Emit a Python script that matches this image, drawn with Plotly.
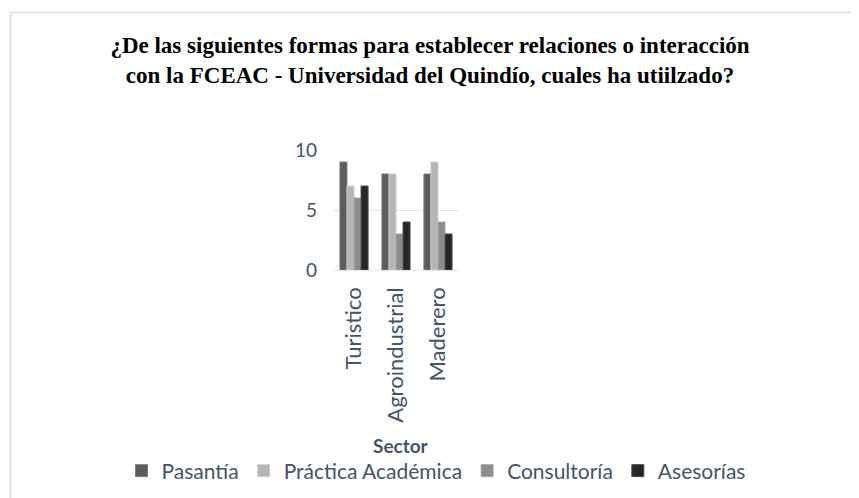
import plotly.graph_objects as go

sectores = ["Turistico", "Agroindustrial", "Maderero"]
formas = ["Pasantía", "Práctica Académica", "Consultoría", "Asesorías"]
pasantia = [9, 8, 8]
practica = [7, 8, 9]
consultoria = [6, 3, 4]
asesorias = [7, 4, 3]

valores = [pasantia, practica, consultoria, asesorias]
colores = ["#5c5c5c", "#b5b5b5", "#8c8c8c", "#262626"]
bordes = ["#7d7d7d", "#cfcfcf", "#a6a6a6", "#4d4d4d"]

W, H = 859, 498
OFF = 8  # margen del body de la pagina


def px(x):
    return (x - OFF) / W


def py(y):
    return 1 - (y - OFF) / H


fig = go.Figure()
for nombre, vals, color, borde in zip(formas, valores, colores, bordes):
    fig.add_trace(
        go.Bar(
            x=sectores,
            y=vals,
            name=nombre,
            marker=dict(color=color, line=dict(color=borde, width=1)),
        )
    )

fig.update_layout(
    template="none",
    width=W,
    height=H,
    margin=dict(l=0, r=0, t=0, b=0, pad=0),
    paper_bgcolor="white",
    plot_bgcolor="white",
    barmode="group",
    bargap=0.33,
    bargroupgap=0,
    font=dict(family="Lato", color="#44546A"),
    title=dict(
        text="<b>¿De las siguientes formas para establecer relaciones o interacción<br>"
        "con la FCEAC - Universidad del Quindío, cuales ha utiilzado?</b>",
        font=dict(family="Liberation Serif", size=23, color="black"),
        x=px(430),
        xanchor="center",
        y=py(53),
        yanchor="top",
    ),
    legend=dict(
        orientation="h",
        x=px(436),
        xanchor="center",
        y=py(471),
        yanchor="middle",
        font=dict(size=21, color="#44546A"),
        bgcolor="rgba(0,0,0,0)",
        itemwidth=30,
    ),
    shapes=[
        dict(
            type="rect",
            xref="paper",
            yref="paper",
            x0=px(10.5),
            x1=1.05,
            y0=-0.05,
            y1=py(12.5),
            line=dict(color="#d9dde3", width=1.5),
        )
    ],
    annotations=[
        dict(
            text="<b>Sector</b>",
            xref="paper",
            yref="paper",
            x=px(401),
            y=py(459),
            showarrow=False,
            font=dict(size=19, color="#44546A"),
        )
    ],
)

fig.update_xaxes(
    domain=[px(333), px(459)],
    tickangle=-90,
    tickfont=dict(size=22, color="#44546A"),
    showgrid=False,
    showline=False,
    zeroline=False,
    ticks="",
    ticklabelstandoff=12,
    automargin=False,
)
fig.update_yaxes(
    domain=[py(270), py(150)],
    range=[0, 10],
    tickvals=[0, 5, 10],
    tickfont=dict(size=19, color="#44546A"),
    showgrid=True,
    gridcolor="#e6e6e6",
    zeroline=True,
    zerolinecolor="#e6e6e6",
    showline=False,
    ticks="",
    ticklabelstandoff=15,
    automargin=False,
)

fig.write_html("out.html")
